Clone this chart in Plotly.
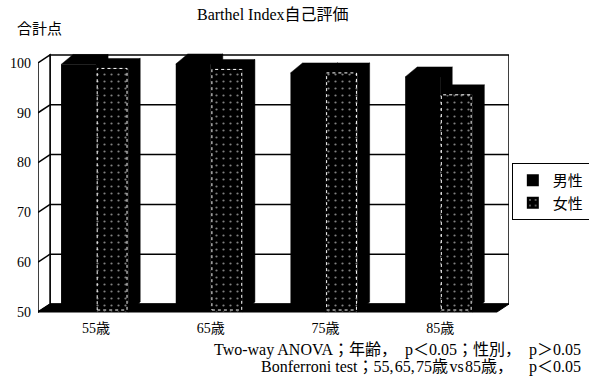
import plotly.graph_objects as go

# Barthel Index self-rating (total score), by age group and sex
categories = ["55歳", "65歳", "75歳", "85歳"]
male = [99.7, 99.8, 98.0, 97.2]
female = [98.9, 98.7, 98.0, 93.6]
y_ticks = [50, 60, 70, 80, 90, 100]

SERIF = "Liberation Serif, Noto Sans CJK JP, serif"
BASE = 50.0
HAIR = "\u200a"

# pseudo-3D geometry (in axis units)
WALL_DX, WALL_DY = 0.105, 1.6     # depth of the chart box
BAR_DX, BAR_DY = 0.105, 2.0       # depth of each column
M_OFF, M_W = -0.305, 0.305        # male column front face
F_OFF, F_W = 0.0, 0.28            # female column front face
X0 = -0.506                       # front-left edge of the box
X1 = len(categories) - 1 + 0.495  # front-right edge of the box

xs = list(range(len(categories)))


def box_faces(i, v, off, w):
    """Return the (top, side) polygons for a column drawn at category i."""
    xl, xr = i + off, i + off + w
    top_x = [xl, xr, xr + BAR_DX, xl + BAR_DX, xl]
    top_y = [v, v, v + BAR_DY, v + BAR_DY, v]
    side_x = [xr, xr, xr + BAR_DX, xr + BAR_DX, xr]
    side_y = [BASE, v, v + BAR_DY, BASE + BAR_DY, BASE]
    return (top_x, top_y), (side_x, side_y)


def faces_trace(values, off, w, z):
    px, py = [], []
    for i, v in zip(xs, values):
        for fx, fy in box_faces(i, v, off, w):
            px += fx + [None]
            py += fy + [None]
    return go.Scatter(x=px, y=py, mode="lines", fill="toself",
                      fillcolor="black", line=dict(color="black", width=0.5),
                      showlegend=False, hoverinfo="skip", zorder=z)


fig = go.Figure()

# male columns
fig.add_trace(faces_trace(male, M_OFF, M_W, 1))
fig.add_trace(go.Bar(
    x=xs, y=[v - BASE for v in male], base=BASE, offset=M_OFF, width=M_W,
    name="男性", marker=dict(color="black", line=dict(width=0)), zorder=1,
))

# female columns (in front)
fig.add_trace(faces_trace(female, F_OFF, F_W, 2))
fig.add_trace(go.Bar(
    x=xs, y=[v - BASE for v in female], base=BASE, offset=F_OFF, width=F_W,
    name="女性",
    marker=dict(color="black", line=dict(width=0),
                pattern=dict(shape=".", fgcolor="white", bgcolor="black",
                             size=7, solidity=0.08)),
    zorder=2,
))

# dotted outline of the female front faces
ox, oy = [], []
for i, v in zip(xs, female):
    xl, xr = i + F_OFF + 0.01, i + F_OFF + F_W - 0.01
    ox += [xl, xr, xr, xl, xl, None]
    oy += [BASE + 0.4, BASE + 0.4, v, v, BASE + 0.4, None]
fig.add_trace(go.Scatter(x=ox, y=oy, mode="lines",
                         line=dict(color="white", width=1, dash="dot"),
                         showlegend=False, hoverinfo="skip", zorder=3))

# chart box: back wall, left wall, floor and gridlines
shapes = []
bx0, bx1 = X0 + WALL_DX, X1 + WALL_DX
top = y_ticks[-1]
shapes.append(dict(type="rect", xref="x", yref="y", layer="below",
                   x0=bx0, x1=bx1, y0=BASE + WALL_DY, y1=top + WALL_DY,
                   fillcolor="white", line=dict(color="black", width=1.5)))
shapes.append(dict(type="path", xref="x", yref="y", layer="below",
                   path=f"M{X0},{BASE} L{X0},{top} L{bx0},{top + WALL_DY} "
                        f"L{bx0},{BASE + WALL_DY} Z",
                   fillcolor="white", line=dict(color="black", width=1.5)))
shapes.append(dict(type="path", xref="x", yref="y", layer="below",
                   path=f"M{X0},{BASE} L{X1},{BASE} L{bx1},{BASE + WALL_DY} "
                        f"L{bx0},{BASE + WALL_DY} Z",
                   fillcolor="black", line=dict(color="black", width=1)))
for t in y_ticks[1:-1]:
    shapes.append(dict(type="line", xref="x", yref="y", layer="below",
                       x0=bx0, x1=bx1, y0=t + WALL_DY, y1=t + WALL_DY,
                       line=dict(color="black", width=1.5)))
    shapes.append(dict(type="line", xref="x", yref="y", layer="below",
                       x0=X0, x1=bx0, y0=t, y1=t + WALL_DY,
                       line=dict(color="black", width=1.5)))

bonferroni = ("Bonferroni test；55," + HAIR + "65," + HAIR + "75歳" + HAIR
              + "vs" + HAIR + "85歳，    p＜0.05")

annotations = [
    dict(text="Barthel Index自己評価", x=0.499, y=1.136, xref="paper",
         yref="paper", showarrow=False, xanchor="center", yanchor="middle",
         font=dict(family=SERIF, size=16, color="black")),
    dict(text="合計点", x=-0.049, y=1.08, xref="paper", yref="paper",
         showarrow=False, xanchor="left", yanchor="middle",
         font=dict(family=SERIF, size=15, color="black")),
    dict(text="Two-way ANOVA；年齢，  p＜0.05；性別，  p＞0.05",
         x=1.157, y=-0.136, xref="paper", yref="paper", showarrow=False,
         xanchor="right", yanchor="middle",
         font=dict(family=SERIF, size=16, color="black")),
    dict(text=bonferroni,
         x=1.157, y=-0.2, xref="paper", yref="paper", showarrow=False,
         xanchor="right", yanchor="middle",
         font=dict(family=SERIF, size=16, color="black")),
]

fig.update_layout(
    width=589, height=380,
    margin=dict(l=38, r=80, t=50, b=66, autoexpand=False),
    paper_bgcolor="white", plot_bgcolor="white",
    barmode="overlay",
    shapes=shapes, annotations=annotations,
    font=dict(family=SERIF, color="black"),
    legend=dict(x=1.006, y=0.572, xanchor="left", yanchor="top",
                bordercolor="black", borderwidth=1, bgcolor="white",
                font=dict(family=SERIF, size=15, color="black"),
                itemwidth=30, tracegroupgap=0),
    xaxis=dict(range=[X0, X1 + WALL_DX], tickvals=xs, ticktext=categories,
               showgrid=False, zeroline=False, showline=False, ticks="",
               ticklabelstandoff=4, tickfont=dict(family=SERIF, size=14)),
    yaxis=dict(range=[49.6, 102.6], tickvals=y_ticks, showgrid=False,
               zeroline=False, showline=False, ticks="",
               ticklabelstandoff=6, tickfont=dict(family=SERIF, size=14)),
)

fig.write_html("out.html")
